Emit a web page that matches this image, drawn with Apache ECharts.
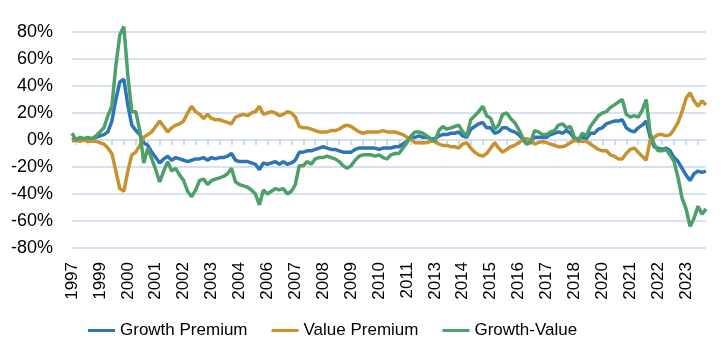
<!DOCTYPE html>
<html>
<head>
<meta charset="utf-8">
<script src="https://cdn.jsdelivr.net/npm/echarts@6/dist/echarts.min.js"></script>
<style>
html, body { margin: 0; padding: 0; background: #fff; }
#chart { width: 724px; height: 353px; }
</style>
</head>
<body>
<div id="chart"></div>
<script>
// bi-monthly observations starting Dec 1997
var startYear = 1997, startMonth = 12, stepMonths = 2;

var growthPremium = [
  0, 1, 1, 1, 0, 1, 2, 3, 4, 6, 14, 30, 43, 45, 26, 11, 7, 4, -2, -4, -9, -13, -17, -14, -12, -15, -13, -14, -15, -16, -15, -14,
  -14, -13, -15, -13, -14, -13, -13, -12, -10, -15, -16, -16, -16, -17, -18, -22, -17, -18, -17, -16, -18, -16, -18, -17, -15, -9, -9, -8, -8, -7, -6, -5,
  -6, -7, -7, -8, -9, -9, -9, -7, -6, -6, -6, -6, -6, -7, -6, -6, -6, -5, -5, -3, -1, 2, 2, 3, 2, 2, 1, 1, 3, 4, 4, 5,
  5, 6, 3, 2, 8, 10, 12, 13, 9, 9, 5, 6, 9, 9, 7, 6, 4, 1, -3, -1, 2, 2, 2, 2, 4, 5, 6, 5, 7, 5, 1, 1,
  2, 1, 5, 5, 8, 9, 12, 13, 14, 14, 15, 9, 7, 6, 9, 11, 14, 2, -5, -6, -7, -6, -8, -13, -16, -21, -26, -30, -25, -23, -24, -23
];
var valuePremium = [
  -1, 0, -1, 0, -1, -1, -1, -2, -3, -6, -10, -23, -36, -38, -23, -11, -9, -4, 2, 4, 6, 10, 14, 10, 6, 9, 11, 12, 14, 20, 25, 21,
  19, 16, 19, 16, 15, 15, 14, 13, 12, 17, 18, 19, 18, 20, 21, 25, 19, 20, 21, 20, 18, 19, 21, 20, 17, 10, 9, 9, 8, 7, 6, 6,
  6, 7, 7, 8, 10, 11, 10, 8, 6, 5, 6, 6, 6, 6, 7, 6, 6, 6, 5, 4, 2, 1, -2, -2, -2, -2, -1, -1, -3, -4, -4, -5,
  -5, -6, -3, -2, -6, -9, -11, -12, -10, -6, -2, -6, -9, -7, -5, -4, -2, 0, 1, 0, -3, -2, -1, -2, -3, -4, -5, -5, -4, -2, 0, -1,
  -1, -1, -3, -5, -7, -8, -8, -11, -12, -14, -14, -10, -7, -6, -9, -12, -15, 0, 2, 4, 4, 3, 4, 8, 13, 21, 31, 35, 29, 25, 29, 26
];
var growthValue = [
  5, 0, 2, 1, 2, 1, 3, 6, 9, 18, 25, 55, 78, 84, 48, 21, 21, 7, -17, -6, -14, -22, -31, -23, -16, -23, -21, -26, -30, -38, -42, -37,
  -30, -29, -33, -30, -29, -28, -27, -25, -21, -31, -33, -34, -35, -37, -40, -48, -37, -40, -38, -36, -37, -36, -40, -38, -33, -19, -19, -16, -18, -14, -13, -13,
  -12, -13, -14, -16, -19, -21, -19, -15, -12, -11, -11, -11, -12, -11, -13, -14, -11, -10, -10, -6, -2, 3, 6, 6, 5, 3, 1, -1, 7, 10, 8, 9,
  10, 11, 6, 3, 15, 18, 21, 25, 18, 16, 8, 11, 19, 20, 16, 13, 8, 2, -3, -2, 7, 6, 4, 4, 6, 7, 11, 12, 9, 10, 2, 0,
  5, 3, 10, 14, 18, 20, 21, 24, 26, 28, 30, 19, 17, 18, 17, 22, 30, 5, -3, -8, -8, -7, -11, -16, -28, -43, -51, -64, -58, -49, -55, -51
];

var seriesNames = ['Growth Premium', 'Value Premium', 'Growth-Value'];
var seriesColors = ['#2E75B6', '#C8922E', '#4E9F6A'];

var months = [];
for (var i = 0; i < growthPremium.length; i++) {
  var m = startMonth - 1 + i * stepMonths;
  var yr = startYear + Math.floor(m / 12);
  var mm = m % 12 + 1;
  months.push(yr + '-' + (mm < 10 ? '0' + mm : mm));
}

var font = 'Liberation Sans, Arial, sans-serif';
var gridColor = '#D5E0F0';

var option = {
  animation: false,
  textStyle: { fontFamily: font },
  grid: { left: 72, right: 18, top: 32, bottom: 105 },
  legend: {
    top: 317,
    left: 83,
    icon: 'rect',
    itemWidth: 27,
    itemHeight: 3,
    itemGap: 24,
    textStyle: { fontSize: 17, color: '#000', fontFamily: font },
    data: seriesNames
  },
  xAxis: [
    {
      type: 'category',
      data: months,
      boundaryGap: false,
      position: 'bottom',
      axisLine: { show: false, onZero: false },
      axisTick: { show: false },
      splitLine: { show: false },
      axisLabel: {
        interval: 6,
        rotate: 90,
        margin: 14,
        fontSize: 17,
        color: '#000',
        fontFamily: font,
        formatter: function (v) { return v.slice(0, 4); }
      }
    },
    {
      // ticks sitting on the 0% line
      type: 'category',
      data: months,
      boundaryGap: false,
      position: 'bottom',
      axisLine: { show: false, onZero: true },
      axisTick: {
        show: true,
        length: 5,
        interval: function (idx) { return idx % 3 === 1; },
        lineStyle: { color: '#BFD0E8', width: 1.5 }
      },
      axisLabel: { show: false },
      splitLine: { show: false }
    }
  ],
  yAxis: {
    type: 'value',
    min: -80,
    max: 80,
    interval: 20,
    axisLine: { show: false },
    axisTick: { show: false },
    axisLabel: {
      formatter: '{value}%',
      fontSize: 18,
      color: '#000',
      margin: 19,
      fontFamily: font
    },
    splitLine: { lineStyle: { color: gridColor, width: 2 } }
  },
  series: [growthPremium, valuePremium, growthValue].map(function (d, i) {
    return {
      name: seriesNames[i],
      type: 'line',
      xAxisIndex: 0,
      data: d,
      symbol: 'none',
      clip: false,
      color: seriesColors[i],
      lineStyle: { width: 3.5, color: seriesColors[i] }
    };
  })
};

var myChart = echarts.init(document.getElementById('chart'));
myChart.setOption(option);
</script>
</body>
</html>
